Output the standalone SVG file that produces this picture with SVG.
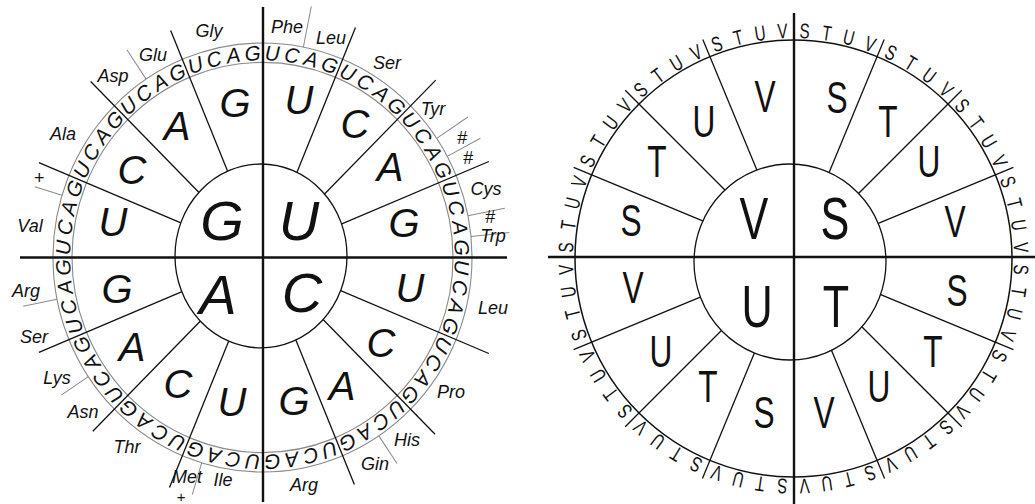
<svg xmlns="http://www.w3.org/2000/svg" width="1035" height="504" viewBox="0 0 1035 504">
<style>
.ax{stroke:#111;stroke-width:2.4;fill:none}
.rad{stroke:#111;stroke-width:1.3;fill:none}
.thin{stroke:#8a8a8a;stroke-width:1;fill:none}
.ring{stroke:#8a8a8a;stroke-width:1.1;fill:none}
.inner{stroke:#111;stroke-width:1.3;fill:#fff}
.outer{stroke:#111;stroke-width:1.5;fill:none}
text{fill:#111;text-anchor:middle}
.rl{font-family:'Liberation Sans',Arial,sans-serif;font-style:italic;font-size:20.5px}
.lab{font-family:'Liberation Sans',Arial,sans-serif;font-style:italic;font-size:18px}
.big{font-family:'Liberation Sans',Arial,sans-serif;font-style:italic;font-size:40px}
.ctr{font-family:'Liberation Sans',Arial,sans-serif;font-style:italic;font-size:56px}
.rr{font-family:'Liberation Sans',Arial,sans-serif;font-size:21px}
.rbig{font-family:'Liberation Sans',Arial,sans-serif;font-size:44px}
.rctr{font-family:'Liberation Sans',Arial,sans-serif;font-size:60px}
</style>
<rect width="1035" height="504" fill="#fff"/>

<g id="left-wheel">
 <g id="left-frame" transform="translate(262.5 257.5) scale(1 1.024)">
  <circle class="ring" r="209.5"/>
  <circle class="ring" r="190.5"/>
  <g id="left-connectors">
   <line class="rad" y1="-75" y2="-243" transform="rotate(22.5)"/>
   <line class="rad" y1="-75" y2="-245" transform="rotate(45)"/>
   <line class="rad" y1="-75" y2="-245" transform="rotate(67.5)"/>
   <line class="rad" y1="-75" y2="-245" transform="rotate(112.5)"/>
   <line class="rad" y1="-75" y2="-244" transform="rotate(135)"/>
   <line class="rad" y1="-75" y2="-240" transform="rotate(157.5)"/>
   <line class="rad" y1="-75" y2="-243" transform="rotate(202.5)"/>
   <line class="rad" y1="-75" y2="-240" transform="rotate(225)"/>
   <line class="rad" y1="-75" y2="-242" transform="rotate(247.5)"/>
   <line class="rad" y1="-75" y2="-242" transform="rotate(292.5)"/>
   <line class="rad" y1="-75" y2="-243" transform="rotate(315)"/>
   <line class="rad" y1="-75" y2="-240" transform="rotate(337.5)"/>
   <line class="thin" y1="-209.5" y2="-250" transform="rotate(11.25)"/>
   <line class="thin" y1="-209.5" y2="-247" transform="rotate(56.25)"/>
   <line class="thin" y1="-209.5" y2="-247" transform="rotate(61.875)"/>
   <line class="thin" y1="-209.5" y2="-247" transform="rotate(78.75)"/>
   <line class="thin" y1="-209.5" y2="-248" transform="rotate(84.375)"/>
   <line class="thin" y1="-209.5" y2="-242" transform="rotate(146.25)"/>
   <line class="thin" y1="-209.5" y2="-242" transform="rotate(196.875)"/>
   <line class="thin" y1="-209.5" y2="-242" transform="rotate(236.25)"/>
   <line class="thin" y1="-209.5" y2="-244" transform="rotate(258.75)"/>
   <line class="thin" y1="-209.5" y2="-238" transform="rotate(286.875)"/>
   <line class="thin" y1="-209.5" y2="-244" transform="rotate(326.25)"/>
  </g>
  <ellipse id="left-core" class="inner" cx="-1.5" cy="-1.5" rx="86" ry="89.8"/>
  <g id="left-ring-text" class="rl">
   <text transform="rotate(2.81)" y="-192.5">U</text><text transform="rotate(8.44)" y="-192.5">C</text><text transform="rotate(14.06)" y="-192.5">A</text><text transform="rotate(19.69)" y="-192.5">G</text>
   <text transform="rotate(25.31)" y="-192.5">U</text><text transform="rotate(30.94)" y="-192.5">C</text><text transform="rotate(36.56)" y="-192.5">A</text><text transform="rotate(42.19)" y="-192.5">G</text>
   <text transform="rotate(47.81)" y="-192.5">U</text><text transform="rotate(53.44)" y="-192.5">C</text><text transform="rotate(59.06)" y="-192.5">A</text><text transform="rotate(64.69)" y="-192.5">G</text>
   <text transform="rotate(70.31)" y="-192.5">U</text><text transform="rotate(75.94)" y="-192.5">C</text><text transform="rotate(81.56)" y="-192.5">A</text><text transform="rotate(87.19)" y="-192.5">G</text>
   <text transform="rotate(92.81)" y="-192.5">U</text><text transform="rotate(98.44)" y="-192.5">C</text><text transform="rotate(104.06)" y="-192.5">A</text><text transform="rotate(109.69)" y="-192.5">G</text>
   <text transform="rotate(115.31)" y="-192.5">U</text><text transform="rotate(120.94)" y="-192.5">C</text><text transform="rotate(126.56)" y="-192.5">A</text><text transform="rotate(132.19)" y="-192.5">G</text>
   <text transform="rotate(137.81)" y="-192.5">U</text><text transform="rotate(143.44)" y="-192.5">C</text><text transform="rotate(149.06)" y="-192.5">A</text><text transform="rotate(154.69)" y="-192.5">G</text>
   <text transform="rotate(160.31)" y="-192.5">U</text><text transform="rotate(165.94)" y="-192.5">C</text><text transform="rotate(171.56)" y="-192.5">A</text><text transform="rotate(177.19)" y="-192.5">G</text>
   <text transform="rotate(182.81)" y="-192.5">U</text><text transform="rotate(188.44)" y="-192.5">C</text><text transform="rotate(194.06)" y="-192.5">A</text><text transform="rotate(199.69)" y="-192.5">G</text>
   <text transform="rotate(205.31)" y="-192.5">U</text><text transform="rotate(210.94)" y="-192.5">C</text><text transform="rotate(216.56)" y="-192.5">A</text><text transform="rotate(222.19)" y="-192.5">G</text>
   <text transform="rotate(227.81)" y="-192.5">U</text><text transform="rotate(233.44)" y="-192.5">C</text><text transform="rotate(239.06)" y="-192.5">A</text><text transform="rotate(244.69)" y="-192.5">G</text>
   <text transform="rotate(250.31)" y="-192.5">U</text><text transform="rotate(255.94)" y="-192.5">C</text><text transform="rotate(261.56)" y="-192.5">A</text><text transform="rotate(267.19)" y="-192.5">G</text>
   <text transform="rotate(272.81)" y="-192.5">U</text><text transform="rotate(278.44)" y="-192.5">C</text><text transform="rotate(284.06)" y="-192.5">A</text><text transform="rotate(289.69)" y="-192.5">G</text>
   <text transform="rotate(295.31)" y="-192.5">U</text><text transform="rotate(300.94)" y="-192.5">C</text><text transform="rotate(306.56)" y="-192.5">A</text><text transform="rotate(312.19)" y="-192.5">G</text>
   <text transform="rotate(317.81)" y="-192.5">U</text><text transform="rotate(323.44)" y="-192.5">C</text><text transform="rotate(329.06)" y="-192.5">A</text><text transform="rotate(334.69)" y="-192.5">G</text>
   <text transform="rotate(340.31)" y="-192.5">U</text><text transform="rotate(345.94)" y="-192.5">C</text><text transform="rotate(351.56)" y="-192.5">A</text><text transform="rotate(357.19)" y="-192.5">G</text>
  </g>
 </g>
 <g id="left-axes">
  <line class="ax" x1="263" y1="7" x2="263" y2="502"/>
  <line class="ax" x1="20" y1="257.5" x2="507" y2="257.5"/>
 </g>
 <g id="left-center" class="ctr">
  <text x="222" y="240">G</text><text x="299" y="240">U</text>
  <text x="218" y="314">A</text><text x="302" y="312">C</text>
 </g>
 <g id="left-sectors" class="big">
  <text x="235" y="117">G</text><text x="177" y="140">A</text><text x="132" y="184">C</text><text x="113" y="236">U</text>
  <text x="299" y="114">U</text><text x="355" y="138">C</text><text x="390" y="181">A</text><text x="404" y="237">G</text>
  <text x="410" y="302">U</text><text x="381" y="357">C</text><text x="342" y="400">A</text><text x="294" y="415">G</text>
  <text x="117" y="303">G</text><text x="132" y="361">A</text><text x="178" y="398">C</text><text x="232" y="416">U</text>
 </g>
 <g id="left-labels" class="lab">
  <text x="209" y="36.5">Gly</text><text x="153" y="60.5">Glu</text><text x="113" y="81.5">Asp</text>
  <text x="63" y="139.5">Ala</text><text x="39" y="184">+</text><text x="30" y="231.5">Val</text>
  <text x="287" y="32.5">Phe</text><text x="331" y="43.5">Leu</text><text x="387" y="68.5">Ser</text>
  <text x="433" y="114.5">Tyr</text><text x="462" y="143.5">#</text><text x="468" y="163.5">#</text>
  <text x="486" y="194.5">Cys</text><text x="490" y="222.5">#</text><text x="493" y="241.5">Trp</text>
  <text x="493" y="313.5">Leu</text><text x="451" y="397.5">Pro</text><text x="407" y="445.5">His</text>
  <text x="375" y="469.5">Gin</text><text x="304" y="490.5">Arg</text>
  <text x="26" y="296.5">Arg</text><text x="34" y="342.5">Ser</text><text x="57" y="383.5">Lys</text>
  <text x="83" y="417.5">Asn</text><text x="127" y="452.5">Thr</text><text x="187" y="482.5">Met</text>
  <text x="181" y="502" style="font-size:15px">+</text><text x="223" y="485.5">Ile</text>
 </g>
</g>

<g id="right-wheel">
 <g id="right-frame" transform="translate(793.5 258.5)">
  <circle class="outer" r="218.5"/>
  <g id="right-connectors">
   <line class="rad" y1="-80" y2="-237" transform="rotate(22.5)"/>
   <line class="rad" y1="-80" y2="-238" transform="rotate(45)"/>
   <line class="rad" y1="-80" y2="-238" transform="rotate(67.5)"/>
   <line class="rad" y1="-80" y2="-238" transform="rotate(112.5)"/>
   <line class="rad" y1="-80" y2="-238" transform="rotate(135)"/>
   <line class="rad" y1="-80" y2="-238" transform="rotate(157.5)"/>
   <line class="rad" y1="-80" y2="-238" transform="rotate(202.5)"/>
   <line class="rad" y1="-80" y2="-238" transform="rotate(225)"/>
   <line class="rad" y1="-80" y2="-238" transform="rotate(247.5)"/>
   <line class="rad" y1="-80" y2="-238" transform="rotate(292.5)"/>
   <line class="rad" y1="-80" y2="-238" transform="rotate(315)"/>
   <line class="rad" y1="-80" y2="-237" transform="rotate(337.5)"/>
  </g>
  <ellipse id="right-core" class="inner" cx="-3.5" cy="3.5" rx="96" ry="98"/>
  <g id="right-ring-text" class="rr">
   <text transform="rotate(2.81) translate(0 -220.5) scale(0.72 1)">S</text><text transform="rotate(8.44) translate(0 -220.5) scale(0.72 1)">T</text><text transform="rotate(14.06) translate(0 -220.5) scale(0.72 1)">U</text><text transform="rotate(19.69) translate(0 -220.5) scale(0.72 1)">V</text>
   <text transform="rotate(25.31) translate(0 -220.5) scale(0.72 1)">S</text><text transform="rotate(30.94) translate(0 -220.5) scale(0.72 1)">T</text><text transform="rotate(36.56) translate(0 -220.5) scale(0.72 1)">U</text><text transform="rotate(42.19) translate(0 -220.5) scale(0.72 1)">V</text>
   <text transform="rotate(47.81) translate(0 -220.5) scale(0.72 1)">S</text><text transform="rotate(53.44) translate(0 -220.5) scale(0.72 1)">T</text><text transform="rotate(59.06) translate(0 -220.5) scale(0.72 1)">U</text><text transform="rotate(64.69) translate(0 -220.5) scale(0.72 1)">V</text>
   <text transform="rotate(70.31) translate(0 -220.5) scale(0.72 1)">S</text><text transform="rotate(75.94) translate(0 -220.5) scale(0.72 1)">T</text><text transform="rotate(81.56) translate(0 -220.5) scale(0.72 1)">U</text><text transform="rotate(87.19) translate(0 -220.5) scale(0.72 1)">V</text>
   <text transform="rotate(92.81) translate(0 -220.5) scale(0.72 1)">S</text><text transform="rotate(98.44) translate(0 -220.5) scale(0.72 1)">T</text><text transform="rotate(104.06) translate(0 -220.5) scale(0.72 1)">U</text><text transform="rotate(109.69) translate(0 -220.5) scale(0.72 1)">V</text>
   <text transform="rotate(115.31) translate(0 -220.5) scale(0.72 1)">S</text><text transform="rotate(120.94) translate(0 -220.5) scale(0.72 1)">T</text><text transform="rotate(126.56) translate(0 -220.5) scale(0.72 1)">U</text><text transform="rotate(132.19) translate(0 -220.5) scale(0.72 1)">V</text>
   <text transform="rotate(137.81) translate(0 -220.5) scale(0.72 1)">S</text><text transform="rotate(143.44) translate(0 -220.5) scale(0.72 1)">T</text><text transform="rotate(149.06) translate(0 -220.5) scale(0.72 1)">U</text><text transform="rotate(154.69) translate(0 -220.5) scale(0.72 1)">V</text>
   <text transform="rotate(160.31) translate(0 -220.5) scale(0.72 1)">S</text><text transform="rotate(165.94) translate(0 -220.5) scale(0.72 1)">T</text><text transform="rotate(171.56) translate(0 -220.5) scale(0.72 1)">U</text><text transform="rotate(177.19) translate(0 -220.5) scale(0.72 1)">V</text>
   <text transform="rotate(182.81) translate(0 -220.5) scale(0.72 1)">S</text><text transform="rotate(188.44) translate(0 -220.5) scale(0.72 1)">T</text><text transform="rotate(194.06) translate(0 -220.5) scale(0.72 1)">U</text><text transform="rotate(199.69) translate(0 -220.5) scale(0.72 1)">V</text>
   <text transform="rotate(205.31) translate(0 -220.5) scale(0.72 1)">S</text><text transform="rotate(210.94) translate(0 -220.5) scale(0.72 1)">T</text><text transform="rotate(216.56) translate(0 -220.5) scale(0.72 1)">U</text><text transform="rotate(222.19) translate(0 -220.5) scale(0.72 1)">V</text>
   <text transform="rotate(227.81) translate(0 -220.5) scale(0.72 1)">S</text><text transform="rotate(233.44) translate(0 -220.5) scale(0.72 1)">T</text><text transform="rotate(239.06) translate(0 -220.5) scale(0.72 1)">U</text><text transform="rotate(244.69) translate(0 -220.5) scale(0.72 1)">V</text>
   <text transform="rotate(250.31) translate(0 -220.5) scale(0.72 1)">S</text><text transform="rotate(255.94) translate(0 -220.5) scale(0.72 1)">T</text><text transform="rotate(261.56) translate(0 -220.5) scale(0.72 1)">U</text><text transform="rotate(267.19) translate(0 -220.5) scale(0.72 1)">V</text>
   <text transform="rotate(272.81) translate(0 -220.5) scale(0.72 1)">S</text><text transform="rotate(278.44) translate(0 -220.5) scale(0.72 1)">T</text><text transform="rotate(284.06) translate(0 -220.5) scale(0.72 1)">U</text><text transform="rotate(289.69) translate(0 -220.5) scale(0.72 1)">V</text>
   <text transform="rotate(295.31) translate(0 -220.5) scale(0.72 1)">S</text><text transform="rotate(300.94) translate(0 -220.5) scale(0.72 1)">T</text><text transform="rotate(306.56) translate(0 -220.5) scale(0.72 1)">U</text><text transform="rotate(312.19) translate(0 -220.5) scale(0.72 1)">V</text>
   <text transform="rotate(317.81) translate(0 -220.5) scale(0.72 1)">S</text><text transform="rotate(323.44) translate(0 -220.5) scale(0.72 1)">T</text><text transform="rotate(329.06) translate(0 -220.5) scale(0.72 1)">U</text><text transform="rotate(334.69) translate(0 -220.5) scale(0.72 1)">V</text>
   <text transform="rotate(340.31) translate(0 -220.5) scale(0.72 1)">S</text><text transform="rotate(345.94) translate(0 -220.5) scale(0.72 1)">T</text><text transform="rotate(351.56) translate(0 -220.5) scale(0.72 1)">U</text><text transform="rotate(357.19) translate(0 -220.5) scale(0.72 1)">V</text>
  </g>
 </g>
 <g id="right-axes">
  <line class="ax" x1="794" y1="13" x2="794" y2="504"/>
  <line class="ax" x1="548" y1="257" x2="1035" y2="257"/>
 </g>
 <g id="right-center" class="rctr">
  <text transform="translate(754 238.5) scale(0.72 1)">V</text>
  <text transform="translate(835 238.5) scale(0.72 1)">S</text>
  <text transform="translate(757 326.5) scale(0.72 1)">U</text>
  <text transform="translate(836 326.5) scale(0.72 1)">T</text>
 </g>
 <g id="right-sectors" class="rbig">
  <text transform="translate(765 112) scale(0.72 1)">V</text>
  <text transform="translate(704 137) scale(0.72 1)">U</text>
  <text transform="translate(657 177) scale(0.72 1)">T</text>
  <text transform="translate(631 236) scale(0.72 1)">S</text>
  <text transform="translate(837 113) scale(0.72 1)">S</text>
  <text transform="translate(888 137) scale(0.72 1)">T</text>
  <text transform="translate(929 177) scale(0.72 1)">U</text>
  <text transform="translate(955 237) scale(0.72 1)">V</text>
  <text transform="translate(957 306) scale(0.72 1)">S</text>
  <text transform="translate(933 367) scale(0.72 1)">T</text>
  <text transform="translate(879 402) scale(0.72 1)">U</text>
  <text transform="translate(824 428) scale(0.72 1)">V</text>
  <text transform="translate(633 303) scale(0.72 1)">V</text>
  <text transform="translate(661 367) scale(0.72 1)">U</text>
  <text transform="translate(708 402) scale(0.72 1)">T</text>
  <text transform="translate(764 428) scale(0.72 1)">S</text>
 </g>
</g>
</svg>
